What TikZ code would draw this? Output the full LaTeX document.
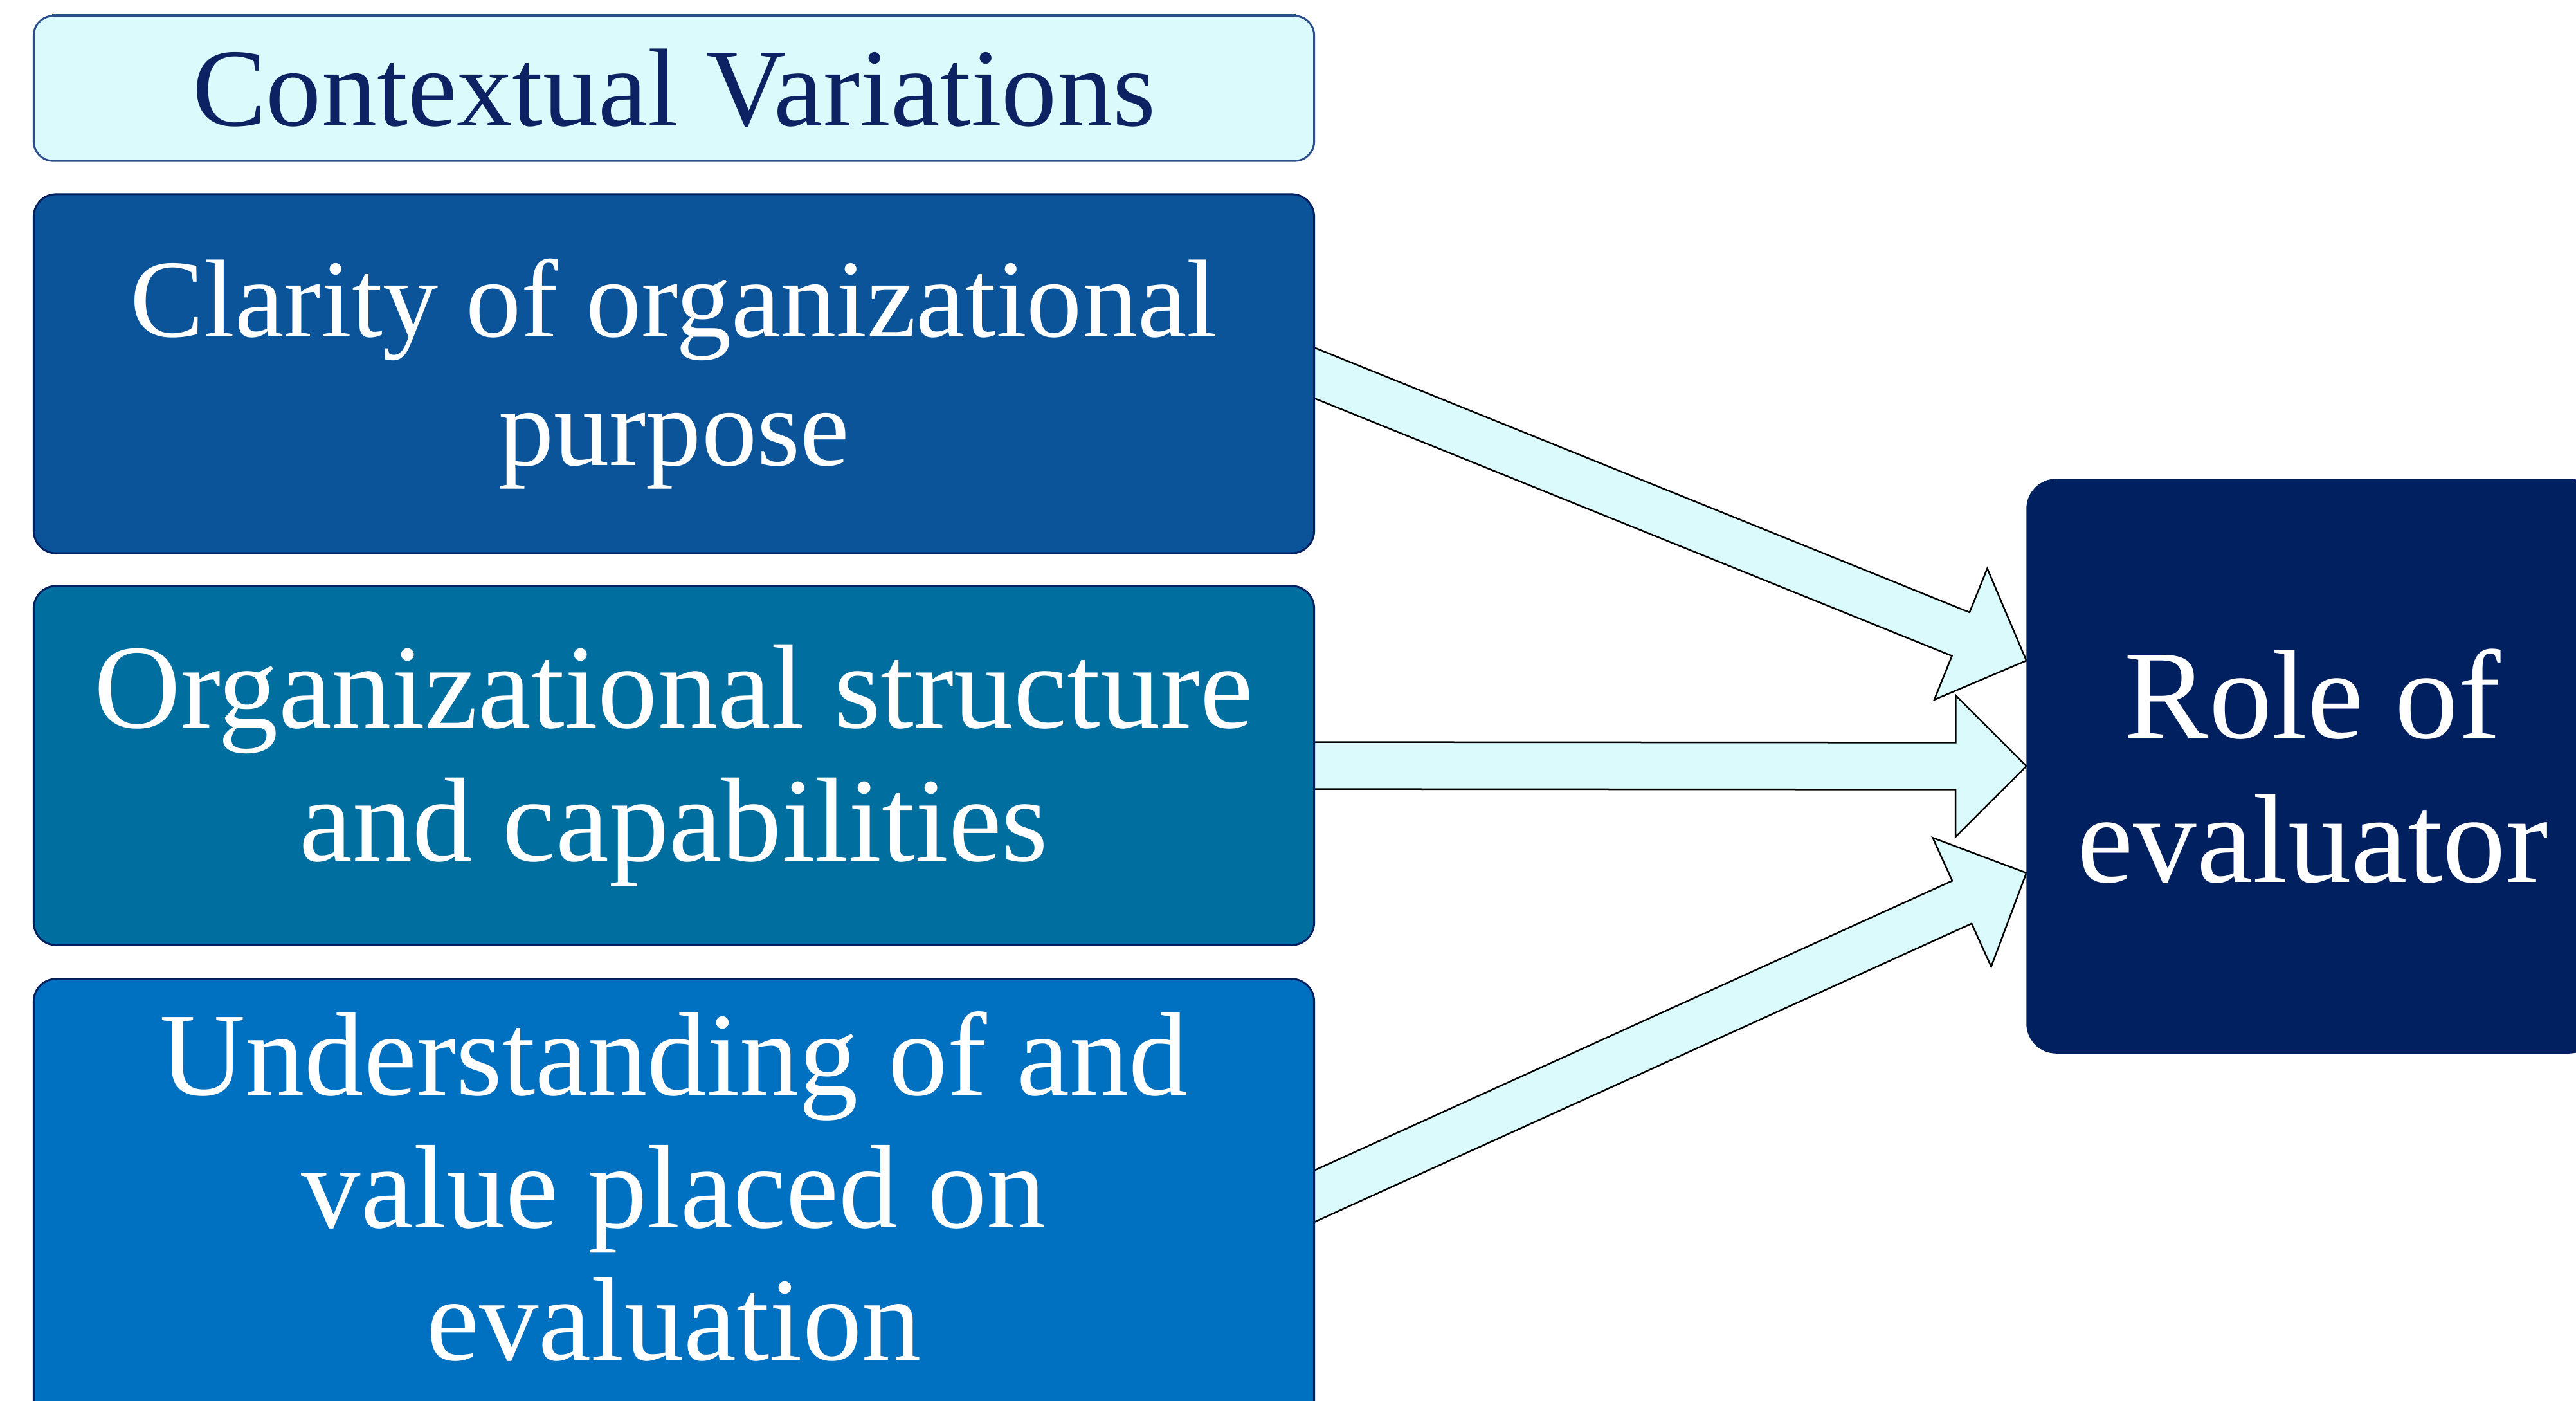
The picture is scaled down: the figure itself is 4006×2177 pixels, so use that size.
\documentclass[tikz,border=0pt]{standalone}
\usepackage{fontspec}
\setmainfont{Liberation Serif}
\usetikzlibrary{calc,backgrounds}
\definecolor{cvfill}{HTML}{DBFAFB}
\definecolor{cvtext}{HTML}{0D2262}
\definecolor{cvline}{HTML}{2C4E8C}
\definecolor{navy}{HTML}{002060}
\definecolor{clarfill}{HTML}{0B5499}
\definecolor{orgfill}{HTML}{006E9E}
\definecolor{undfill}{HTML}{0070C0}
\definecolor{arrfill}{HTML}{DAFAFB}
\tikzset{
  box/.style={rectangle, rounded corners=0.35cm, draw=navy, line width=0.03cm,
    minimum width=19.9cm, inner sep=0pt, text=white, align=center,
    font=\fontsize{51}{58.6}\selectfont},
  fatarrow/.style={fill=arrfill, draw=black, line width=0.025cm, line join=miter},
}
\newcommand{\drawfat}[3]{%
  \coordinate (#3n) at ($(#2)!1.1cm!(#1)$);
  \draw[fatarrow] ($(#1)!0.365cm!90:(#2)$) -- ($(#3n)!0.365cm!-90:(#1)$)
    -- ($(#3n)!1.1cm!-90:(#1)$) -- (#2) -- ($(#3n)!1.1cm!90:(#1)$)
    -- ($(#3n)!0.365cm!90:(#1)$) -- ($(#1)!0.365cm!-90:(#2)$) -- cycle;
}
\begin{document}
\begin{tikzpicture}[x=0.01cm, y=-0.01cm]
\useasboundingbox (0,0) rectangle (4006,2177);
\clip (0,0) rectangle (4006,2177);

\node[box, fill=cvfill, draw=cvline, rounded corners=0.3cm, minimum height=2.25cm,
      text=cvtext, font=\fontsize{49}{56}\selectfont] (cv) at (1048,137.5) {Contextual Variations};
\draw[cvline, line width=0.05cm] ([xshift=0.3cm]cv.north west) -- ([xshift=-0.3cm]cv.north east);
\node[box, fill=clarfill, minimum height=5.58cm, font=\fontsize{49}{57}\selectfont] (clar) at (1048,581)
  {Clarity of organizational\\purpose};
\node[box, fill=orgfill, minimum height=5.58cm, font=\fontsize{53}{59}\selectfont] (org) at (1048,1190)
  {Organizational structure\\and capabilities};
\node[box, fill=undfill, minimum height=7.38cm] (und) at (1048,1891) {};
\node[text=white, align=center, inner sep=0pt, font=\fontsize{52.5}{58.6}\selectfont]
  (undtext) at (1048,1844) {Understanding of and\\value placed on\\evaluation};
\node[box, fill=navy, rounded corners=0.45cm, minimum width=8.87cm, minimum height=8.9cm,
      font=\fontsize{56}{63.5}\selectfont] (role) at (3596.5,1191) {Role of\\evaluator};

\coordinate (s1) at ($(clar.east)+(-60,-25)$);
\coordinate (s2) at ($(org.east)+(-60,0)$);
\coordinate (s3) at ($(und.north east)+(-60,366)$);
\coordinate (t1) at ($(role.west)+(0,-164)$);
\coordinate (t2) at (role.west);
\coordinate (t3) at ($(role.west)+(0,166)$);

\begin{scope}[on background layer]
  \fill[white] (0,0) rectangle (4006,2177);
  \drawfat{s1}{t1}{a1}
  \drawfat{s2}{t2}{a2}
  \drawfat{s3}{t3}{a3}
\end{scope}
\end{tikzpicture}
\end{document}
